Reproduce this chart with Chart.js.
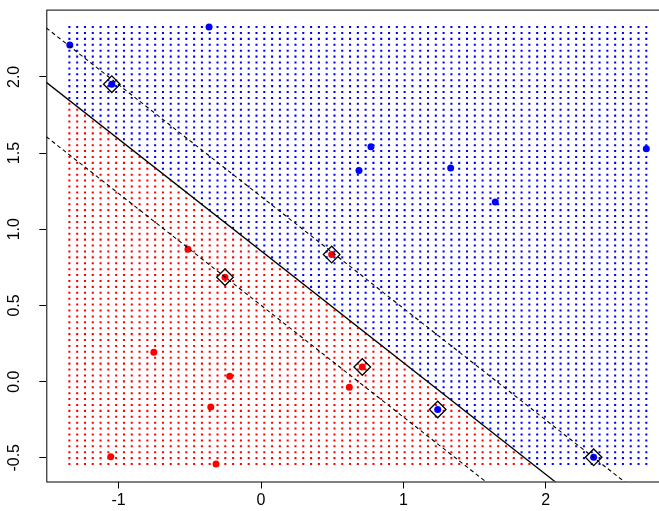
<!DOCTYPE html>
<html>
<head>
<meta charset="utf-8">
<script src="https://cdn.jsdelivr.net/npm/chart.js@4.4.1/dist/chart.umd.min.js"></script>
<style>
  html, body { margin: 0; padding: 0; background: #fff; overflow: hidden; }
  #box { width: 659px; height: 511px; overflow: hidden; position: relative; }
  canvas { position: absolute; left: 0; top: 0; }
</style>
</head>
<body>
<div id="box"><canvas id="myChart" width="690" height="511"></canvas></div>
<script>
// ticks
const xTicks = [-1, 0, 1, 2];
const yTicks = [-0.5, 0.0, 0.5, 1.0, 1.5, 2.0];

// observations, class "blue"
const blueX = [-1.343, -0.365, 0.772, 0.688, 1.332, 1.645, 2.706, -1.048, 1.241, 2.336];
const blueY = [2.209, 2.327, 1.541, 1.386, 1.402, 1.179, 1.528, 1.952, -0.183, -0.497];

// observations, class "red"
const redX = [-0.513, -0.253, -0.753, -0.220, 0.496, 0.711, 0.620, -0.353, -1.055, -0.316];
const redY = [0.869, 0.685, 0.192, 0.035, 0.834, 0.096, -0.037, -0.166, -0.493, -0.541];

// support vectors
const svX = [-1.048, 1.241, 2.336, -0.253, 0.496, 0.711];
const svY = [1.952, -0.183, -0.497, 0.685, 0.834, 0.096];

// hyperplane y = b + m*x, and margins
const slope = -0.7336;
const bDecision = 0.858;
const bUpper = 1.215;
const bLower = 0.501;

// prediction grid
const gridN = 75;
const rangeX = [-1.346, 2.706];
const rangeY = [-0.541, 2.327];

// R style axis limits (4% extension)
const padX = 0.04 * (rangeX[1] - rangeX[0]);
const padY = 0.04 * (rangeY[1] - rangeY[0]);
const xlim = [rangeX[0] - padX, rangeX[1] + padX];
const ylim = [rangeY[0] - padY, rangeY[1] + padY];

let gridBlue = [];
let gridRed = [];
for (let i = 0; i < gridN; i++) {
    for (let j = 0; j < gridN; j++) {
        let gx = rangeX[0] + (rangeX[1] - rangeX[0]) * i / (gridN - 1);
        let gy = rangeY[0] + (rangeY[1] - rangeY[0]) * j / (gridN - 1);
        if (gy > bDecision + slope * gx) {
            gridBlue.push({x: gx, y: gy});
        } else {
            gridRed.push({x: gx, y: gy});
        }
    }
}

const toPts = (xs, ys) => xs.map((v, i) => ({x: v, y: ys[i]}));
const linePts = (b) => [{x: xlim[0], y: b + slope * xlim[0]}, {x: xlim[1], y: b + slope * xlim[1]}];

const FONT = "'Liberation Sans', Arial, Helvetica, sans-serif";

// box + rotated y labels like base R
const frame = {
    id: 'frame',
    afterDraw(chart) {
        const ctx = chart.ctx;
        const a = chart.chartArea;
        ctx.save();
        ctx.strokeStyle = '#000';
        ctx.lineWidth = 1;
        ctx.strokeRect(a.left + 0.5, a.top + 0.5, a.right - a.left, a.bottom - a.top);
        ctx.fillStyle = '#000';
        ctx.font = '16px ' + FONT;
        ctx.textAlign = 'center';
        ctx.textBaseline = 'middle';
        const ys = chart.scales.y;
        yTicks.forEach(v => {
            let py = ys.getPixelForValue(v);
            ctx.save();
            ctx.translate(15, py);
            ctx.rotate(-Math.PI / 2);
            ctx.fillText(v.toFixed(1), 0, 0);
            ctx.restore();
        });
        ctx.restore();
    }
};

let ctx = document.getElementById('myChart').getContext('2d');
let chart = new Chart(ctx, {
    type: 'scatter',
    data: {
        datasets: [
            {
                data: linePts(bDecision), showLine: true, pointRadius: 0,
                borderColor: '#000', borderWidth: 1.3, order: 0
            },
            {
                data: linePts(bUpper), showLine: true, pointRadius: 0,
                borderColor: '#000', borderWidth: 1.1, borderDash: [4, 3], order: 0
            },
            {
                data: linePts(bLower), showLine: true, pointRadius: 0,
                borderColor: '#000', borderWidth: 1.1, borderDash: [4, 3], order: 0
            },
            {
                data: toPts(svX, svY), pointStyle: 'rectRot', pointRadius: 8.3,
                backgroundColor: 'rgba(0,0,0,0)', borderColor: '#000', borderWidth: 1.3, order: 1
            },
            {
                data: toPts(blueX, blueY), pointStyle: 'circle', pointRadius: 3.5,
                backgroundColor: '#0000FF', borderWidth: 0, order: 2
            },
            {
                data: toPts(redX, redY), pointStyle: 'circle', pointRadius: 3.5,
                backgroundColor: '#FF0000', borderWidth: 0, order: 2
            },
            {
                data: gridBlue, pointStyle: 'rect', pointRadius: 1.45,
                backgroundColor: '#0000FF', borderWidth: 0, order: 3
            },
            {
                data: gridRed, pointStyle: 'rect', pointRadius: 1.45,
                backgroundColor: '#FF0000', borderWidth: 0, order: 3
            }
        ]
    },
    options: {
        responsive: false,
        animation: false,
        events: [],
        layout: { padding: { top: 8.5, right: 20.6, left: 0, bottom: 0 } },
        plugins: { legend: { display: false }, tooltip: { enabled: false } },
        scales: {
            x: {
                type: 'linear', min: xlim[0], max: xlim[1],
                afterBuildTicks: (s) => { s.ticks = xTicks.map(v => ({value: v})); },
                afterFit: (s) => { s.height = 29.5; },
                grid: { drawOnChartArea: false, drawTicks: true, tickLength: 7, color: '#000', lineWidth: 1 },
                border: { display: false },
                ticks: { color: '#000', padding: 2, font: { size: 16, family: FONT }, maxRotation: 0,
                         callback: (v) => String(v) }
            },
            y: {
                type: 'linear', min: ylim[0], max: ylim[1],
                afterBuildTicks: (s) => { s.ticks = yTicks.map(v => ({value: v})); },
                afterFit: (s) => { s.width = 46.3; },
                grid: { drawOnChartArea: false, drawTicks: true, tickLength: 7, color: '#000', lineWidth: 1 },
                border: { display: false },
                ticks: { display: false }
            }
        }
    },
    plugins: [frame]
});
</script>
</body>
</html>
